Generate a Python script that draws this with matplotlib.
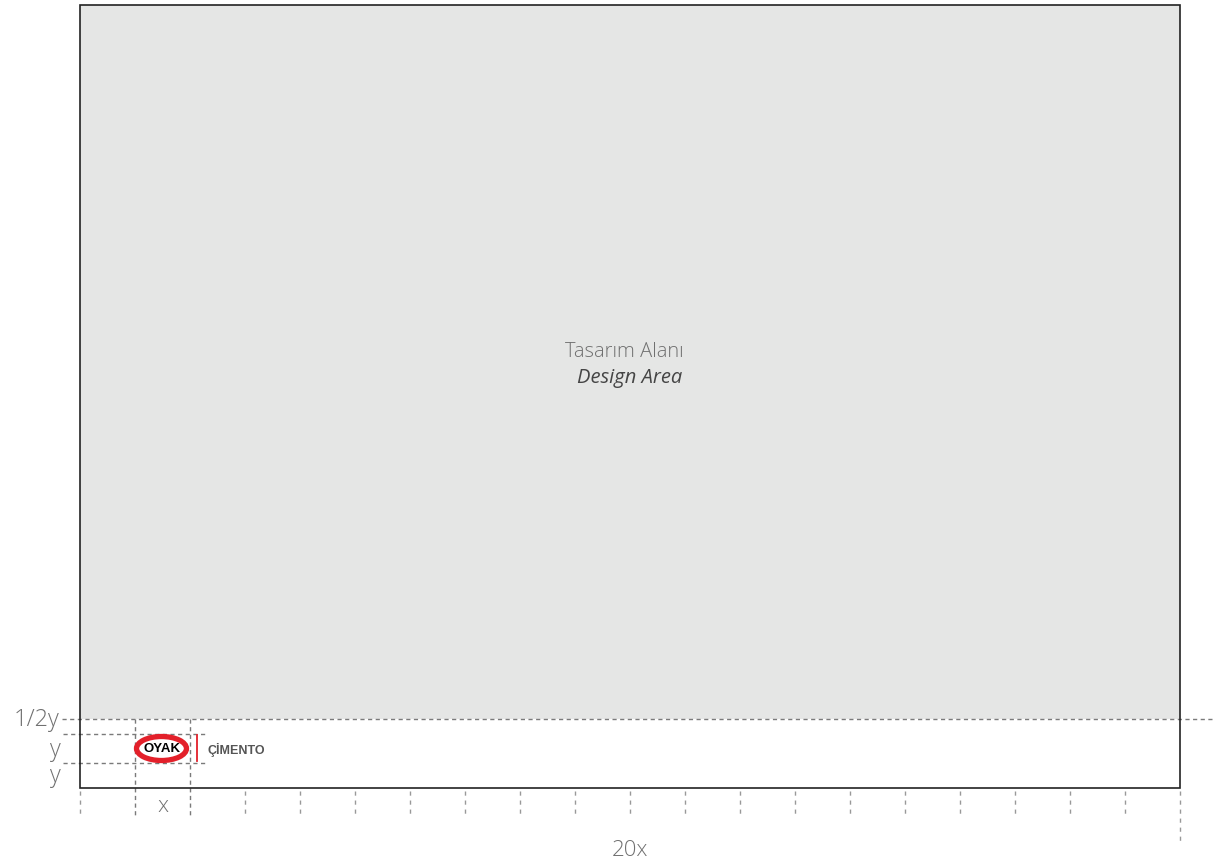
import matplotlib.pyplot as plt
from matplotlib.patches import Rectangle, Ellipse

# birimler (piksel)
x_birim = 55
sol, ust, sag, alt = 80, 5, 1180, 788
adim_sayisi = 20
# yatay kilavuz cizgileri
y_gri_son = 719
y_logo_ust = 734
y_logo_alt = 763

# etiketler
y_etiketleri = ["1/2y", "y", "y"]
baslik_tr = "Tasarım Alanı"
baslik_en = "Design Area"
logo_metin = "OYAK"
marka_metin = "ÇİMENTO"

gri = "#e5e6e5"
cizgi = "#7a7a7a"
yazi = "#707070"

fig = plt.figure(figsize=(12.22, 8.64), dpi=100)
ax = fig.add_axes([0, 0, 1, 1])
ax.set_xlim(0, 1222)
ax.set_ylim(864, 0)
ax.axis("off")

ax.add_patch(Rectangle((sol, ust), sag - sol, y_gri_son - ust, facecolor=gri, edgecolor="none", zorder=1))
ax.add_patch(Rectangle((sol, ust), sag - sol, alt - ust, facecolor="none", edgecolor="#222222", lw=1.2, zorder=4))

kesik = dict(color=cizgi, lw=1, dashes=(3, 2.5), zorder=3)
ax.plot([62, 1215], [y_gri_son, y_gri_son], **kesik)
ax.plot([63, 207], [y_logo_ust, y_logo_ust], **kesik)
ax.plot([63, 207], [y_logo_alt, y_logo_alt], **kesik)
for i in (1, 2):
    xx = sol + i * x_birim
    ax.plot([xx, xx], [y_gri_son, 818], **kesik)

# alt cetvel
for i in range(adim_sayisi + 1):
    xx = sol + i * x_birim
    son = 845 if i == adim_sayisi else 818
    if i in (1, 2):
        continue
    ax.plot([xx, xx], [791, son], color="#999999", lw=1, dashes=(3, 3.5), zorder=3)

# sol etiketler
y_konum = [y_gri_son, (y_logo_ust + y_logo_alt) / 2, (y_logo_alt + alt) / 2]
for et, yy in zip(y_etiketleri, y_konum):
    ax.text(60, yy + 1, et, ha="right", va="center", fontsize=17, color=yazi,
            family="Open Sans", fontweight="light")

ax.text(sol + 1.5 * x_birim, 806, "x", ha="center", va="center", fontsize=16,
        color=yazi, family="Open Sans", fontweight="light")
ax.text((sol + sag) / 2, 850, f"{adim_sayisi}x", ha="center", va="center", fontsize=16,
        color=yazi, family="Open Sans", fontweight="light")

# orta metin
ax.text(624, 352, baslik_tr, ha="center", va="center", fontsize=14.5, color="#707070",
        family="Open Sans", fontweight="light")
ax.text(630, 378, baslik_en, ha="center", va="center", fontsize=14.5, color="#454545",
        family="Open Sans", fontweight="medium", style="italic")

# logo
lx = 161.5
ly = (y_logo_ust + y_logo_alt) / 2
ax.add_patch(Ellipse((lx, ly), 50, 24, facecolor="white", edgecolor="#e3202a", lw=3.8, zorder=5))
ax.text(lx, ly + 1, logo_metin, ha="center", va="center", fontsize=9.5, color="black",
        family="Liberation Sans", fontweight="bold", zorder=6)
ax.plot([197, 197], [y_logo_ust + 1, y_logo_alt - 2], color="#e3202a", lw=1.3, zorder=5)
ax.text(207, ly + 1, marka_metin, ha="left", va="center", fontsize=9, color="#555555",
        family="Liberation Sans", fontweight="bold", zorder=6)

fig.savefig("out.png", dpi=100)
